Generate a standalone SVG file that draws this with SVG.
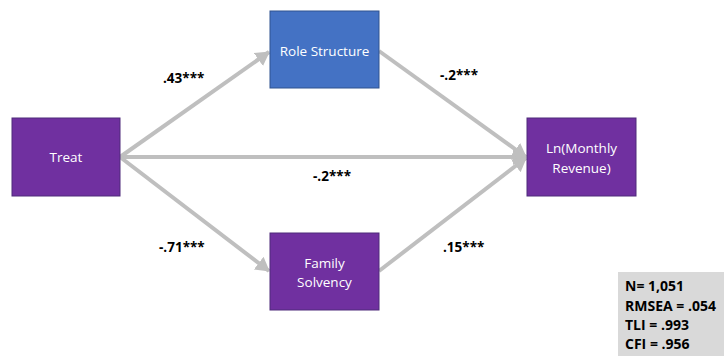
<svg xmlns="http://www.w3.org/2000/svg" width="724" height="356" viewBox="0 0 724 356">
<style>
.node{fill:#7030a0;stroke:#4e2a7a;stroke-width:1}
.blue{fill:#4472c4;stroke:#2f528f;stroke-width:1}
.nt{font-family:"Open Sans","Liberation Sans",sans-serif;font-size:13.5px;fill:#fff;text-anchor:middle}
.lbl{font-family:"Open Sans","Liberation Sans",sans-serif;font-size:13.5px;font-weight:bold;fill:#000}
.st{font-size:14px}
.conn{stroke:#bfbfbf;stroke-width:4;fill:none}
</style>
<defs>
<marker id="ah" markerUnits="userSpaceOnUse" markerWidth="14" markerHeight="16" refX="13" refY="8" orient="auto" viewBox="0 0 14 16">
<path d="M0,0 L14,8 L0,16 Z" fill="#bfbfbf"/>
</marker>
</defs>
<g id="connectors">
<line class="conn" x1="120" y1="157" x2="269" y2="52" marker-end="url(#ah)"/>
<line class="conn" x1="120" y1="157" x2="526" y2="157" marker-end="url(#ah)"/>
<line class="conn" x1="120" y1="157" x2="269" y2="271" marker-end="url(#ah)"/>
<line class="conn" x1="379" y1="51" x2="526" y2="157" marker-end="url(#ah)"/>
<line class="conn" x1="379" y1="271" x2="526" y2="158" marker-end="url(#ah)"/>
</g>
<g id="treat">
<rect class="node" x="12" y="118" width="108" height="78"/>
<text class="nt" x="66" y="162">Treat</text>
</g>
<g id="role">
<rect class="blue" x="270" y="11" width="109" height="77"/>
<text class="nt" x="324.5" y="56">Role Structure</text>
</g>
<g id="family">
<rect class="node" x="270" y="233" width="109" height="77"/>
<text class="nt" x="324.5" y="268">Family</text>
<text class="nt" x="324.5" y="287">Solvency</text>
</g>
<g id="revenue">
<rect class="node" x="527" y="118" width="109" height="78"/>
<text class="nt" x="581.5" y="153">Ln(Monthly</text>
<text class="nt" x="581.5" y="173">Revenue)</text>
</g>
<g id="labels">
<text class="lbl" x="163" y="83">.43***</text>
<text class="lbl" x="440" y="80">-.2***</text>
<text class="lbl" x="313" y="181">-.2***</text>
<text class="lbl" x="159" y="252">-.71***</text>
<text class="lbl" x="443" y="252">.15***</text>
</g>
<g id="stats">
<rect x="618" y="272" width="106" height="84" fill="#d9d9d9"/>
<text class="lbl st" x="625" y="291">N= 1,051</text>
<text class="lbl st" x="625" y="311">RMSEA = .054</text>
<text class="lbl st" x="625" y="330">TLI = .993</text>
<text class="lbl st" x="625" y="349">CFI = .956</text>
</g>
</svg>
